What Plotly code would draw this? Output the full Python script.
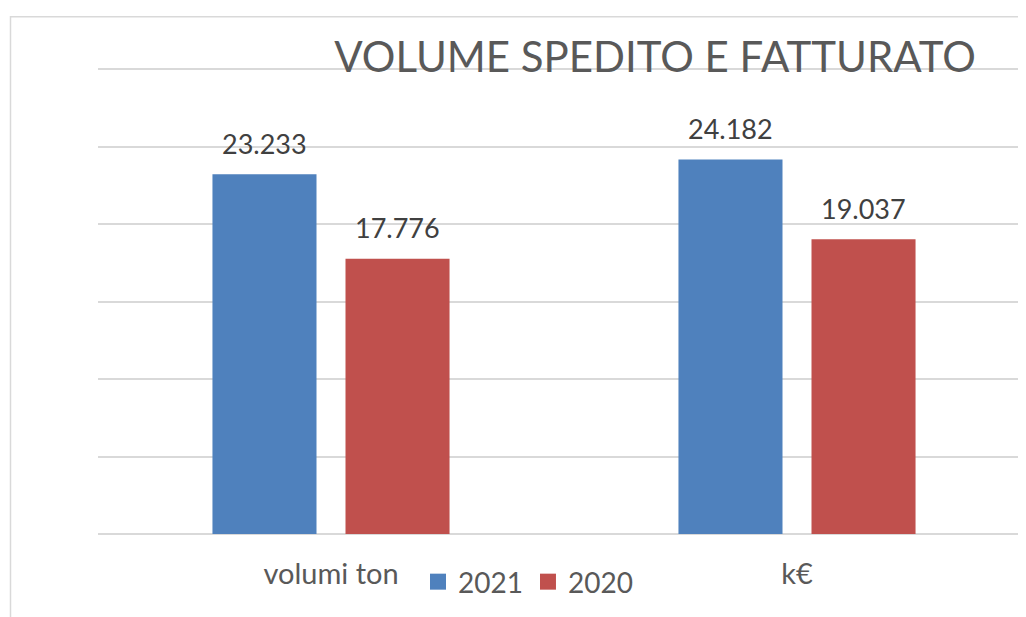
import plotly.graph_objects as go

categories = ["volumi ton", "k€"]
series_names = ["2021", "2020"]
values_2021 = [23233, 24182]
values_2020 = [17776, 19037]
colors = ["#4f81bd", "#c0504d"]
title_text = "VOLUME SPEDITO E FATTURATO"

OFF = 8  # page body margin offset
W, H = 1026, 617
Y_TOP = 30150
base_y = 534 - OFF
top_y = 69 - OFF
L, R = 98 - OFF, 0
B = H - base_y
ph0 = base_y - top_y
ph = ph0 * Y_TOP / 30000
T = H - B - ph
pw = W - L - R

def px_to_paper_x(sx):
    return (sx - OFF - L) / pw

def px_to_paper_y(sy):
    return (base_y - (sy - OFF)) / ph

def fmt(v):
    return f"{v:,}".replace(",", ".")

fig = go.Figure()
for name, vals, col in zip(series_names, [values_2021, values_2020], colors):
    fig.add_trace(go.Bar(x=categories, y=vals, name=name, marker_color=col,
                         marker_line_width=0, showlegend=False))
    fig.add_trace(go.Scatter(x=[None], y=[None], mode="markers", name=name,
                             marker=dict(symbol="square", size=18, color=col)))

# data labels
for vals, shift in [(values_2021, -66.5), (values_2020, 66.5)]:
    for c, v in zip(categories, vals):
        fig.add_annotation(x=c, y=v, text=fmt(v), showarrow=False, xshift=shift,
                           yshift=31, font=dict(size=27, color="#404040", family="Lato"))

# chart border
fig.add_shape(type="rect", xref="paper", yref="paper",
              x0=px_to_paper_x(10.5), x1=px_to_paper_x(1060),
              y0=px_to_paper_y(660), y1=px_to_paper_y(16.5),
              line=dict(color="#d9d9d9", width=1.5), fillcolor="rgba(0,0,0,0)", layer="below")

fig.update_layout(
    width=W, height=H,
    margin=dict(l=L, r=R, t=T, b=B, autoexpand=False),
    paper_bgcolor="white", plot_bgcolor="white",
    barmode="group", bargap=0.429, bargroupgap=0.218,
    font=dict(family="Lato", color="#595959"),
    title=dict(text=title_text, x=(655 - OFF) / W, xanchor="center",
               y=1 - (57 - OFF) / H, yanchor="middle",
               font=dict(size=42, color="#595959", family="Lato")),
    xaxis=dict(range=[-0.5, -0.5 + pw / 466], showgrid=False, showline=False, zeroline=False,
               ticks="", tickfont=dict(size=29, color="#595959"), ticklabelstandoff=20),
    yaxis=dict(range=[0, Y_TOP], tickvals=[0, 5000, 10000, 15000, 20000, 25000, 30000],
               showticklabels=False, showgrid=True,
               gridcolor="#d9d9d9", gridwidth=1.5, zeroline=True, zerolinecolor="#d9d9d9",
               zerolinewidth=1.5, ticks=""),
    legend=dict(orientation="h", x=px_to_paper_x(418), xanchor="left",
                y=px_to_paper_y(582), yanchor="middle", font=dict(size=28, color="#595959"),
                bgcolor="rgba(0,0,0,0)", itemwidth=30, tracegroupgap=0),
)

fig.write_html("out.html")
